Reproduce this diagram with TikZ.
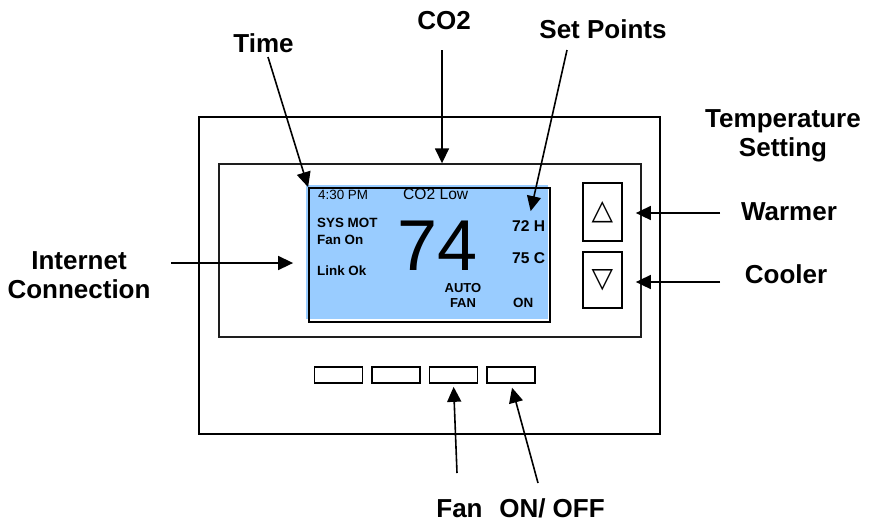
\documentclass[tikz,border=0pt]{standalone}
\usepackage{fontspec}
\setmainfont{Liberation Sans}
\newfontfamily\symfont{DejaVu Sans}
\definecolor{lcdblue}{RGB}{153,204,255}
\definecolor{rim}{RGB}{30,30,30}
\usetikzlibrary{arrows.meta,calc}

\tikzset{
  callout/.style={font=\bfseries\fontsize{26}{29}\selectfont, inner sep=0pt},
  lcdtxt/.style={font=\fontsize{13.4}{15}\selectfont, inner sep=0pt, anchor=base west},
  lcdbold/.style={lcdtxt, font=\bfseries\fontsize{13.4}{15}\selectfont},
  pointer/.style={-{Triangle[length=15pt,width=14pt]}, line width=1.6pt},
  keybox/.style={draw, line width=1.7pt, inner sep=0pt},
}

\begin{document}
\begin{tikzpicture}[x=1pt, y=-1pt]
  \useasboundingbox (0,0) rectangle (874,523);
  % housing and bezel
  \node[draw, line width=2.4pt, minimum width=461pt, minimum height=317pt, inner sep=0pt] (case) at (429.5,275.5) {};
  \node[draw=rim, line width=1.4pt, minimum width=422pt, minimum height=173pt, inner sep=0pt] (bezel) at (430,250.5) {};
  % display
  \fill[lcdblue] (306,185) rectangle (548,319);
  \node[draw, line width=1.8pt, minimum width=241pt, minimum height=134pt, inner sep=0pt] (lcd) at (429.5,255) {};
  \node[lcdtxt] (clock) at (318,199) {4:30 PM};
  \node[lcdtxt, font=\fontsize{15.6}{18}\selectfont] (co2low) at (403,199) {CO2 Low};
  \foreach \y/\txt/\nm in {227/SYS MOT/sysmot, 244/Fan On/fanon, 275/Link Ok/link}{
    \node[lcdbold] (\nm) at (317,\y) {\txt};
  }
  \node[font=\fontsize{72}{72}\selectfont, inner sep=0pt, text depth=0pt, anchor=base] (temp) at (438,270) {74};
  \node[lcdbold, font=\bfseries\fontsize{15.6}{18}\selectfont] (hi) at (512,231) {72 H};
  \node[lcdbold, font=\bfseries\fontsize{15.6}{18}\selectfont] (lo) at (512,263) {75 C};
  \node[lcdbold, anchor=north, align=center, font=\bfseries\fontsize{13}{15}\selectfont] (fanmode) at (463,283) {AUTO\\FAN};
  \node[lcdbold] (onoff) at (513,307) {ON};
  % keys
  \node[keybox, minimum width=39pt, minimum height=58pt, font=\symfont\fontsize{28}{28}\selectfont] (up) at (602.5,212) {△};
  \node[keybox, minimum width=39pt, minimum height=56pt, font=\symfont\fontsize{28}{28}\selectfont] (down) at (602.5,280) {▽};
  \foreach \i/\x in {1/338.5, 2/396, 3/453.5, 4/511}{
    \node[keybox, minimum width=48pt, minimum height=16pt] (key\i) at (\x,375) {};
  }
  % callouts
  \node[callout, anchor=base] (timelbl) at (263.5,52) {Time};
  \node[callout, anchor=base] (co2lbl) at (444,29) {CO2};
  \node[callout, anchor=base] (setlbl) at (603,38) {Set Points};
  \node[callout, align=center] (templbl) at (783,136) {Temperature\\Setting};
  \node[callout, anchor=base] (warmlbl) at (789,220) {Warmer};
  \node[callout, anchor=base] (coollbl) at (786,283) {Cooler};
  \node[callout, align=center] (netlbl) at (79,275) {Internet\\Connection};
  \node[callout, anchor=base] (fanlbl) at (459.5,517) {Fan};
  \node[callout, anchor=base] (pwrlbl) at (552,517) {ON/ OFF};
  % pointers
  \coordinate (timetail) at (268,57);
  \coordinate (co2tail) at (442,50);
  \coordinate (settail) at (567,50);
  \coordinate (nettail) at (171,263);
  \coordinate (warmtail) at (720,213);
  \coordinate (cooltail) at (720,282);
  \coordinate (fantail) at (457,473);
  \coordinate (pwrtail) at (538,483);
  \draw[pointer] (timetail) -- (lcd.north west);
  \draw[pointer] (co2tail) -- (co2tail |- bezel.north);
  \draw[pointer, shorten >=9pt] (settail) -- (hi.north);
  \draw[pointer, shorten >=15pt] (nettail) -- (nettail -| lcd.west);
  \draw[pointer, shorten >=13pt] (warmtail) -- (warmtail -| up.east);
  \draw[pointer, shorten >=13pt] (cooltail) -- (cooltail -| down.east);
  \draw[pointer, shorten >=3pt] (fantail) -- (key3.south);
  \draw[pointer, shorten >=4pt] (pwrtail) -- (key4.south);
\end{tikzpicture}
\end{document}
